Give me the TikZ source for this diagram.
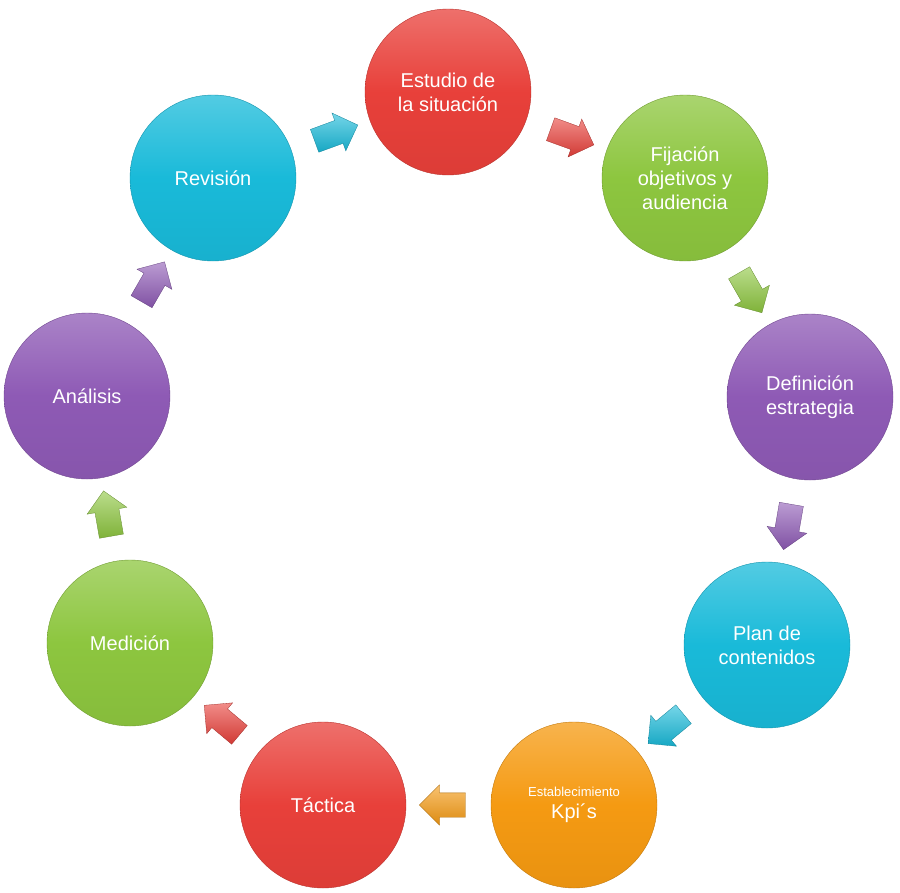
\documentclass[tikz,border=0pt]{standalone}
\usepackage{fontspec}
\setmainfont{Liberation Sans}
\usetikzlibrary{shapes.arrows}
\definecolor{cred}{HTML}{E8403A}
\definecolor{cgreen}{HTML}{8DC63F}
\definecolor{cpurple}{HTML}{8E5AB5}
\definecolor{ccyan}{HTML}{19BAD9}
\definecolor{corange}{HTML}{F59A12}
\tikzset{
  circ/.style={circle, minimum size=166pt, inner sep=0pt, align=center, text=white,
    font=\fontsize{20}{24}\selectfont, draw=#1!80!black, line width=0.4pt,
    top color=#1!75!white, bottom color=#1!95!black, middle color=#1},
  arr/.style={single arrow, shape border uses incircle=false, single arrow head extend=8pt,
    single arrow tip angle=90, minimum height=46pt, minimum width=40pt,
    inner sep=12pt, draw=#1!70!black, line width=0.3pt, top color=#1!60!white, bottom color=#1!90!black,
    allow upside down}
}
\begin{document}
\begin{tikzpicture}[x=1pt,y=-1pt]
\useasboundingbox (0,0) rectangle (900,892);
\node[circ=cred] (a) at (448,92) {Estudio de\\la situación};
\node[circ=cgreen] (b) at (685,178) {Fijación\\objetivos y\\audiencia};
\node[circ=cpurple] (c) at (810,397) {Definición\\estrategia};
\node[circ=ccyan] (d) at (767,645) {Plan de\\contenidos};
\node[circ=corange] (e) at (574,805) {{\fontsize{13}{15}\selectfont Establecimiento}\\[-2pt]Kpi´s};
\node[circ=cred] (f) at (323,805) {Táctica};
\node[circ=cgreen] (g) at (130,643) {Medición};
\node[circ=cpurple] (h) at (87,396) {Análisis};
\node[circ=ccyan] (i) at (213,178) {Revisión};
\path (i) -- (a) node[midway, sloped, arr=ccyan] (ai) {};
\path (a) -- (b) node[midway, sloped, arr=cred] (ab) {};
\path (b) -- (c) node[midway, sloped, arr=cgreen] (bc) {};
\path (c) -- (d) node[midway, sloped, arr=cpurple] (cd) {};
\path (d) -- (e) node[midway, sloped, arr=ccyan] (de) {};
\path (e) -- (f) node[midway, sloped, arr=corange] (ef) {};
\path (f) -- (g) node[midway, sloped, arr=cred] (fg) {};
\path (g) -- (h) node[midway, sloped, arr=cgreen] (gh) {};
\path (h) -- (i) node[midway, sloped, arr=cpurple] (hi) {};
\end{tikzpicture}
\end{document}
